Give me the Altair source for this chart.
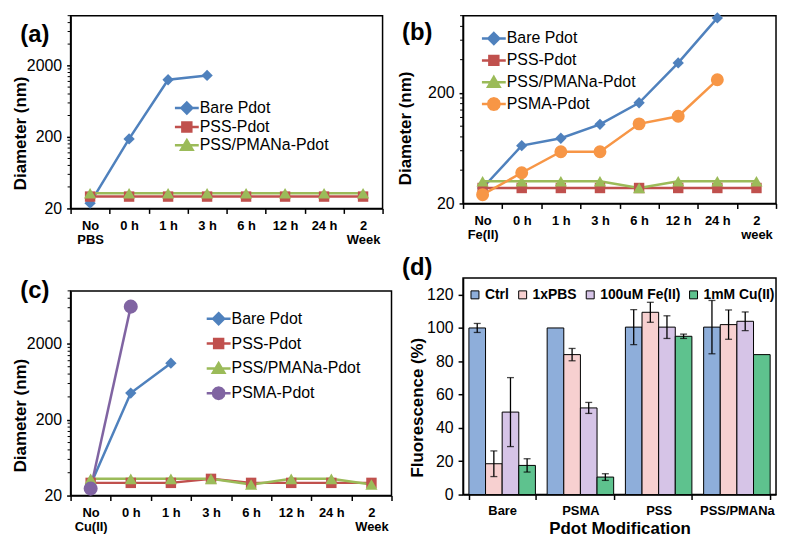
import altair as alt
import pandas as pd

FONT = "Liberation Sans"

# ---------------- data ----------------
# panel (a): PBS
cats_a = ["No\nPBS", "0 h", "1 h", "3 h", "6 h", "12 h", "24 h", "2\nWeek"]
bare_a = [23.7, 188, 1268, 1458, None, None, None, None]
pss_a = [29.3, 29.3, 29.3, 29.3, 29.3, 29.3, 29.3, 29.3]
pmana_a = [32.6, 32.6, 32.6, 32.6, 32.6, 32.6, 32.6, 32.6]

# panel (b): Fe(II)
cats_b = ["No\nFe(II)", "0 h", "1 h", "3 h", "6 h", "12 h", "24 h", "2\nweek"]
bare_b = [27.6, 66.7, 77.8, 104, 163, 374, 955, None]
pss_b = [27.6, 27.6, 27.6, 27.6, 27.6, 27.6, 27.6, 27.6]
pmana_b = [31.8, 31.8, 31.8, 31.8, 27.6, 31.8, 31.8, 31.8]
psma_b = [24, 37.9, 58.7, 58.7, 105, 123, 263, None]

# panel (c): Cu(II)
cats_c = ["No\nCu(II)", "0 h", "1 h", "3 h", "6 h", "12 h", "24 h", "2\nWeek"]
bare_c = [28, 449, 1115, None, None, None, None, None]
pss_c = [29.4, 29.4, 29.4, 33.2, 29.4, 29.4, 29.4, 29.4]
pmana_c = [33.2, 33.2, 33.2, 33.2, 27.9, 33.2, 33.2, 27.9]
psma_c = [24.7, 6200, None, None, None, None, None, None]

# panel (d): fluorescence
groups_d = ["Bare", "PSMA", "PSS", "PSS/PMANa"]
conds_d = ["Ctrl", "1xPBS", "100uM Fe(II)", "1mM Cu(II)"]
fl_ctrl = [100, 100, 100.5, 100.5]
fl_pbs = [18.5, 84, 109.4, 102]
fl_fe = [49.5, 52, 100.5, 104]
fl_cu = [17.5, 10.5, 95, 84]
err_ctrl = [2.7, 0, 10.5, 16]
err_pbs = [7.7, 3.7, 6, 8.8]
err_fe = [20.7, 3.3, 6.8, 5.6]
err_cu = [4, 2, 1.3, 0]

minor_10k = [40, 60, 80, 100, 120, 140, 160, 180,
             400, 600, 800, 1000, 1200, 1400, 1600, 1800,
             4000, 6000, 8000, 10000]
minor_1k = [40, 60, 80, 100, 120, 140, 160, 180, 400, 600, 800, 1000]

# ---------------- styles ----------------
BLUE, RED, GREEN, ORANGE, PURPLE = "#4F81BD", "#C0504D", "#9BBB59", "#F79646", "#8064A2"
SHAPE = {"Bare Pdot": "diamond", "PSS-Pdot": "square",
         "PSS/PMANa-Pdot": "triangle-up", "PSMA-Pdot": "circle"}
CIRC = "L".join("%.2f,%.2f" % xy for xy in [
    (1.15, 0), (1.0, 0.58), (0.58, 1.0), (0, 1.15), (-0.58, 1.0), (-1.0, 0.58),
    (-1.15, 0), (-1.0, -0.58), (-0.58, -1.0), (0, -1.15), (0.58, -1.0), (1.0, -0.58)])
LEGPATH = {
    "Bare Pdot": "M-2.4,0L2.4,0M0,-1.1L1.1,0L0,1.1L-1.1,0Z",
    "PSS-Pdot": "M-2.4,0L2.4,0M-0.9,-0.9L0.9,-0.9L0.9,0.9L-0.9,0.9Z",
    "PSS/PMANa-Pdot": "M-2.4,0L2.4,0M0,-1.05L1.15,0.9L-1.15,0.9Z",
    "PSMA-Pdot": "M-2.4,0L2.4,0M" + CIRC + "Z",
}
PSIZE = {"Bare Pdot": 130, "PSS-Pdot": 110, "PSS/PMANa-Pdot": 150, "PSMA-Pdot": 170}


def line_panel(cats, series, colors, ymax, ylabels, minor, w, h, label, lab_x, lab_y,
               leg_x, leg_y, leg_pad, title_x, title_y, psma_size=170):
    names = list(series.keys())
    rows = []
    for name in names:
        for i, (c, v) in enumerate(zip(cats, series[name])):
            if v is not None:
                rows.append({"cat": c, "series": name, "value": v, "idx": i})
    df = pd.DataFrame(rows)
    cmap = dict(zip(names, colors))

    yscale = alt.Scale(type="log", domain=[20, ymax], nice=False)
    xenc = alt.X("cat:N", sort=cats,
                 scale=alt.Scale(type="band", paddingInner=0, paddingOuter=0),
                 axis=alt.Axis(title=None, labelExpr="split(datum.label, '\\n')", labelAngle=0,
                               tickBand="extent", labelFontSize=13, labelFontWeight="bold",
                               labelLineHeight=14, tickSize=5, labelPadding=6,
                               domainWidth=1.5, labelFont=FONT))
    yaxis = alt.Axis(values=ylabels, format="d", title="Diameter (nm)", titleFontSize=17,
                     titleFontWeight="bold", titleX=title_x, titleY=title_y, labelFontSize=16,
                     labelPadding=5, tickSize=4, labelFont=FONT, titleFont=FONT)
    yenc = alt.Y("value:Q", scale=yscale, axis=yaxis)
    base = alt.Chart(df)
    layers = []
    for n in names:
        layers.append(base.transform_filter(alt.datum.series == n).mark_line(
            strokeWidth=2.5, color=cmap[n]).encode(x=xenc, y=yenc, order=alt.Order("idx:Q")))
    for n in names:
        size = PSIZE[n] if n != "PSMA-Pdot" else psma_size
        layers.append(base.transform_filter(alt.datum.series == n).mark_point(
            filled=True, opacity=1, strokeWidth=0, shape=SHAPE[n], size=size, color=cmap[n]
        ).encode(x=xenc, y=yenc))
    leg = alt.Legend(orient="none", legendX=leg_x, legendY=leg_y, title=None,
                     labelFontSize=16, labelFont=FONT, labelColor="black",
                     symbolSize=100, labelOffset=5, rowPadding=leg_pad, padding=0,
                     symbolOpacity=1, symbolStrokeWidth=2.5)
    cscale = alt.Scale(domain=names, range=colors)
    pscale = alt.Scale(domain=names, range=[LEGPATH[n] for n in names])
    layers.append(base.transform_filter("false").mark_point(filled=True, strokeWidth=2.5).encode(
        x=xenc, y=yenc,
        fill=alt.Fill("series:N", scale=cscale, legend=leg),
        stroke=alt.Stroke("series:N", scale=cscale, legend=leg),
        shape=alt.Shape("series:N", scale=pscale, legend=leg)))
    layers.append(alt.Chart(pd.DataFrame({"m": minor})).mark_rule(color="black", strokeWidth=1).encode(
        y=alt.Y("m:Q", scale=yscale, axis=yaxis), x=alt.value(-3), x2=alt.value(0)))
    layers.append(alt.Chart(pd.DataFrame({"t": [label]})).mark_text(
        fontSize=24, fontWeight="bold", font=FONT, color="black").encode(
        text="t:N", x=alt.value(lab_x), y=alt.value(lab_y)))
    return alt.layer(*layers).properties(width=w, height=h)


pa = line_panel(cats_a, {"Bare Pdot": bare_a, "PSS-Pdot": pss_a, "PSS/PMANa-Pdot": pmana_a},
                [BLUE, RED, GREEN], 10000, [20, 200, 2000], minor_10k, 314, 194,
                "(a)", -36, 19, 109, 85, -2.5, -41, 118)
pb = line_panel(cats_b, {"Bare Pdot": bare_b, "PSS-Pdot": pss_b, "PSS/PMANa-Pdot": pmana_b,
                         "PSMA-Pdot": psma_b},
                [BLUE, RED, GREEN, ORANGE], 1000, [20, 200], minor_1k, 315, 189,
                "(b)", -46, 17, 23, 15, 1, -49, 113, 170)
pc = line_panel(cats_c, {"Bare Pdot": bare_c, "PSS-Pdot": pss_c, "PSS/PMANa-Pdot": pmana_c,
                         "PSMA-Pdot": psma_c},
                [BLUE, RED, GREEN, PURPLE], 10000, [20, 200, 2000], minor_10k, 323, 206,
                "(c)", -36, 0, 141, 20, 4, -41, 125, 200)

# ---------------- bar panel (d) ----------------
vals = [fl_ctrl, fl_pbs, fl_fe, fl_cu]
errs = [err_ctrl, err_pbs, err_fe, err_cu]
rows = []
for ci, cond in enumerate(conds_d):
    for gi, g in enumerate(groups_d):
        v, e = vals[ci][gi], errs[ci][gi]
        rows.append({"grp": g, "cond": cond, "val": v, "lo": v - e, "hi": v + e, "err": e})
dfd = pd.DataFrame(rows)
bar_colors = ["#8EAEDA", "#F7D0D0", "#D6C4E7", "#5EC28E"]

xd = alt.X("grp:N", sort=groups_d, scale=alt.Scale(paddingInner=0.15, paddingOuter=0.075),
           axis=alt.Axis(title="Pdot Modification", titleFontSize=17, titleFontWeight="bold",
                         titleFont=FONT, titlePadding=3, labelAngle=0, labelFontSize=13,
                         labelFontWeight="bold", labelFont=FONT, tickBand="extent",
                         tickSize=5, labelPadding=5))
xo = alt.XOffset("cond:N", sort=conds_d, scale=alt.Scale(paddingInner=0, paddingOuter=0))
yd_scale = alt.Scale(domain=[0, 130], nice=False)
yd_axis = alt.Axis(values=[0, 20, 40, 60, 80, 100, 120], title="Fluorescence (%)",
                   titleFontSize=17, titleFontWeight="bold", titleFont=FONT, titleX=-37,
                   titleY=130, labelFontSize=16, labelFont=FONT, tickSize=5, labelPadding=5)
bdf = alt.Chart(dfd)
bars = bdf.mark_bar(stroke="black", strokeWidth=1).encode(
    x=xd, xOffset=xo, y=alt.Y("val:Q", scale=yd_scale, axis=yd_axis),
    color=alt.Color("cond:N", scale=alt.Scale(domain=conds_d, range=bar_colors),
                    legend=alt.Legend(orient="none", legendX=5, legendY=10, direction="horizontal",
                                      title=None, labelFontSize=14, labelFontWeight="bold",
                                      labelFont=FONT, labelColor="black", symbolType="square",
                                      symbolSize=64, symbolStrokeColor="black",
                                      symbolStrokeWidth=1, labelOffset=3, columnPadding=6,
                                      padding=0)),
)
ebase = bdf.transform_filter("datum.err > 0")
erule = ebase.mark_rule(color="black", strokeWidth=1.3).encode(
    x=xd, xOffset=xo, y=alt.Y("lo:Q", scale=yd_scale, axis=yd_axis), y2="hi:Q")
ecap_lo = ebase.mark_tick(color="black", thickness=1.3, size=7).encode(
    x=xd, xOffset=xo, y=alt.Y("lo:Q", scale=yd_scale, axis=yd_axis))
ecap_hi = ebase.mark_tick(color="black", thickness=1.3, size=7).encode(
    x=xd, xOffset=xo, y=alt.Y("hi:Q", scale=yd_scale, axis=yd_axis))
labd = alt.Chart(pd.DataFrame({"t": ["(d)"]})).mark_text(
    fontSize=24, fontWeight="bold", font=FONT, color="black").encode(
    text="t:N", x=alt.value(-46), y=alt.value(-10))
pdd = alt.layer(bars, erule, ecap_lo, ecap_hi, labd).properties(width=315, height=218)

RES = dict(color="independent", shape="independent", fill="independent", stroke="independent")
left = alt.vconcat(pa, pc, spacing=31).resolve_scale(**RES)
right = alt.vconcat(pb, pdd, spacing=13).resolve_scale(**RES)
chart = alt.hconcat(left, right, spacing=2).resolve_scale(**RES).properties(
    padding={"left": 3, "top": 1, "right": 0, "bottom": 0}
).configure_view(stroke="black", strokeWidth=1.5).configure_axis(
    domainColor="black", domainWidth=1.5, tickColor="black", tickWidth=1.5,
    labelColor="black", titleColor="black", grid=False, labelFont=FONT, titleFont=FONT
)

chart.save("out.html", embed_options={"renderer": "svg", "actions": False})
